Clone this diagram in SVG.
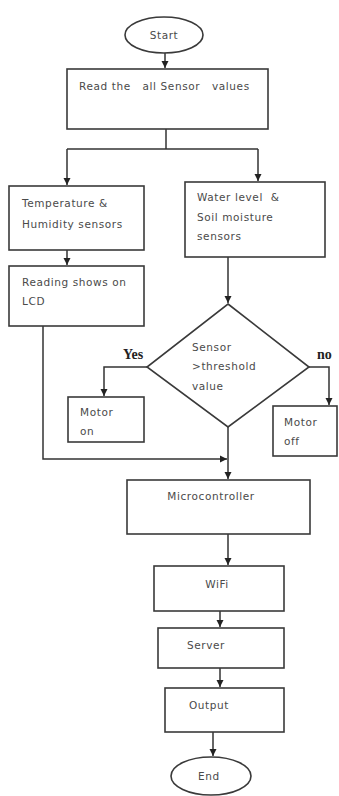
<svg xmlns="http://www.w3.org/2000/svg" width="339" height="796" viewBox="0 0 339 796">
<style>
.box{fill:#fff;stroke:#3a3a3a;stroke-width:1.6}
.t{font-family:"DejaVu Sans",sans-serif;font-size:10.5px;letter-spacing:0.6px;fill:#4a4a4a}
.tc{font-family:"DejaVu Sans",sans-serif;font-size:10.5px;letter-spacing:0.6px;fill:#4a4a4a;text-anchor:middle}
.lbl{font-family:"Liberation Serif",serif;font-size:14px;font-weight:bold;fill:#222}
.c{fill:none;stroke:#333;stroke-width:1.5}
</style>
<defs>
<marker id="ah" markerUnits="userSpaceOnUse" markerWidth="8" markerHeight="8" refX="7" refY="4" orient="auto">
<path d="M0,0.5 L7,4 L0,7.5 z" fill="#222"/>
</marker>
</defs>
<rect width="339" height="796" fill="#fff"/>
<g id="connectors">
<path class="c" d="M165,53 V68" marker-end="url(#ah)"/>
<path class="c" d="M166,129 V149"/>
<path class="c" d="M67,149 H258"/>
<path class="c" d="M67,149 V185" marker-end="url(#ah)"/>
<path class="c" d="M258,149 V181" marker-end="url(#ah)"/>
<path class="c" d="M67,250 V265" marker-end="url(#ah)"/>
<path class="c" d="M228,257 V303" marker-end="url(#ah)"/>
<path class="c" d="M147,367 H104 V396" marker-end="url(#ah)"/>
<path class="c" d="M309,367 H329 V405" marker-end="url(#ah)"/>
<path class="c" d="M43,326 V459 H227" marker-end="url(#ah)"/>
<path class="c" d="M228,427 V479" marker-end="url(#ah)"/>
<path class="c" d="M228,534 V565" marker-end="url(#ah)"/>
<path class="c" d="M220,611 V627" marker-end="url(#ah)"/>
<path class="c" d="M220,668 V687" marker-end="url(#ah)"/>
<path class="c" d="M213,732 V756" marker-end="url(#ah)"/>
</g>
<g id="start">
<ellipse class="box" cx="164" cy="35" rx="39" ry="18"/>
<text class="tc" x="164" y="39">Start</text>
</g>
<g id="read">
<rect class="box" x="67" y="69" width="201" height="60"/>
<text class="t" x="79" y="90" xml:space="preserve">Read the   all Sensor   values</text>
</g>
<g id="temp">
<rect class="box" x="9" y="186" width="135" height="64"/>
<text class="t" x="22" y="207">Temperature &amp;</text>
<text class="t" x="22" y="228">Humidity sensors</text>
</g>
<g id="water">
<rect class="box" x="185" y="182" width="140" height="75"/>
<text class="t" x="197" y="201" xml:space="preserve">Water level  &amp;</text>
<text class="t" x="197" y="221">Soil moisture</text>
<text class="t" x="197" y="240">sensors</text>
</g>
<g id="reading">
<rect class="box" x="9" y="266" width="135" height="60"/>
<text class="t" x="22" y="286">Reading shows on</text>
<text class="t" x="22" y="305">LCD</text>
</g>
<g id="decision">
<polygon class="box" points="228,304 309,367 228,427 147,367"/>
<text class="t" x="192" y="351">Sensor</text>
<text class="t" x="192" y="370">&gt;threshold</text>
<text class="t" x="192" y="390">value</text>
<text class="lbl" x="123" y="359">Yes</text>
<text class="lbl" x="317" y="359">no</text>
</g>
<g id="motoron">
<rect class="box" x="68" y="397" width="76" height="45"/>
<text class="t" x="80" y="416">Motor</text>
<text class="t" x="80" y="435">on</text>
</g>
<g id="motoroff">
<rect class="box" x="273" y="406" width="64" height="50"/>
<text class="t" x="284" y="426">Motor</text>
<text class="t" x="284" y="445">off</text>
</g>
<g id="micro">
<rect class="box" x="127" y="480" width="183" height="54"/>
<text class="tc" x="211" y="500">Microcontroller</text>
</g>
<g id="wifi">
<rect class="box" x="154" y="566" width="130" height="45"/>
<text class="tc" x="217" y="588">WiFi</text>
</g>
<g id="server">
<rect class="box" x="158" y="628" width="126" height="40"/>
<text class="t" x="187" y="649">Server</text>
</g>
<g id="output">
<rect class="box" x="165" y="688" width="119" height="44"/>
<text class="t" x="189" y="709">Output</text>
</g>
<g id="end">
<ellipse class="box" cx="211" cy="776" rx="40" ry="19"/>
<text class="tc" x="209" y="780">End</text>
</g>
</svg>
